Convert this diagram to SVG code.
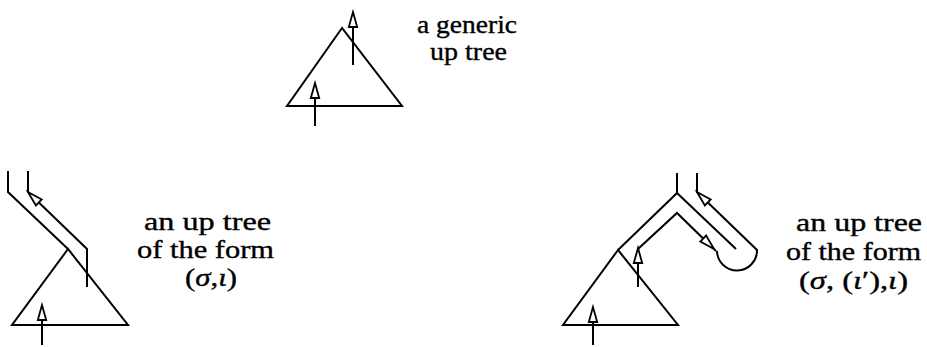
<svg xmlns="http://www.w3.org/2000/svg" xmlns:xlink="http://www.w3.org/1999/xlink" width="927" height="347" viewBox="0 0 927 347">
<style>
.ln{fill:none;stroke:#000;stroke-width:2;stroke-linejoin:miter;stroke-linecap:butt}
.ah{fill:#fff;stroke:#000;stroke-width:1.8;stroke-linejoin:miter}
.lbl{font-family:"Liberation Serif","Times New Roman",serif;font-size:25px;fill:#000;stroke:#000;stroke-width:0.35;text-anchor:start}
.m{font-style:italic}
</style>
<defs>
<path id="ah" d="M0,0 L-15,-4.2 L-15,4.2 Z"/>
</defs>
<rect width="927" height="347" fill="#fff"/>

<g id="generic-tree">
<path class="ln" d="M342,28 L287,106 L402,106 Z"/>
</g>
<g id="form-si-tree">
<path class="ln" d="M68,249 L12,325 L128,325 Z"/>
</g>
<g id="form-sipi-tree">
<path class="ln" d="M618,250 L563,325 L678,325 Z"/>
</g>

<g id="connectors">
<!-- generic -->
<path class="ln" d="M353,65 V13"/>
<use href="#ah" class="ah" transform="translate(353,12) rotate(-90)"/>
<path class="ln" d="M315,126 V84"/>
<use href="#ah" class="ah" transform="translate(315,83) rotate(-90)"/>

<!-- (sigma, iota) -->
<path class="ln" d="M8,171 V192 L68,249"/>
<path class="ln" d="M28,171 V192"/>
<path class="ln" d="M87,287 V249 L28,192"/>
<use href="#ah" class="ah" transform="translate(28,192) rotate(-136)"/>
<path class="ln" d="M42,345 V306"/>
<use href="#ah" class="ah" transform="translate(42,305) rotate(-90)"/>

<!-- (sigma, (iota'), iota) -->
<path class="ln" d="M677,173 V193 L618,250"/>
<path class="ln" d="M677,193 L736,249"/>
<path class="ln" d="M697,173 V192 L757,250 A20,20 0 0 1 717,251"/>
<path class="ln" d="M638,287 V249 L677,213 L716,251"/>
<use href="#ah" class="ah" transform="translate(638,248) rotate(-90)"/>
<use href="#ah" class="ah" transform="translate(714,249) rotate(44)"/>
<use href="#ah" class="ah" transform="translate(697,192) rotate(-136)"/>
<path class="ln" d="M593,345 V308"/>
<use href="#ah" class="ah" transform="translate(593,307) rotate(-90)"/>
</g>

<g id="labels">
<text class="lbl" x="417" y="33" textLength="100" lengthAdjust="spacingAndGlyphs">a generic</text>
<text class="lbl" x="430" y="60" textLength="77" lengthAdjust="spacingAndGlyphs">up tree</text>

<text class="lbl" x="144" y="230" textLength="127" lengthAdjust="spacingAndGlyphs">an up tree</text>
<text class="lbl" x="137" y="258" textLength="137" lengthAdjust="spacingAndGlyphs">of the form</text>
<text class="lbl" x="185" y="286" textLength="52" lengthAdjust="spacingAndGlyphs">(<tspan class="m">σ</tspan>,<tspan class="m">ι</tspan>)</text>

<text class="lbl" x="796" y="231" textLength="126" lengthAdjust="spacingAndGlyphs">an up tree</text>
<text class="lbl" x="786" y="260" textLength="135" lengthAdjust="spacingAndGlyphs">of the form</text>
<text class="lbl" x="799" y="289" textLength="109" lengthAdjust="spacingAndGlyphs">(<tspan class="m">σ</tspan>, (<tspan class="m">ι</tspan>′),<tspan class="m">ι</tspan>)</text>
</g>
</svg>
